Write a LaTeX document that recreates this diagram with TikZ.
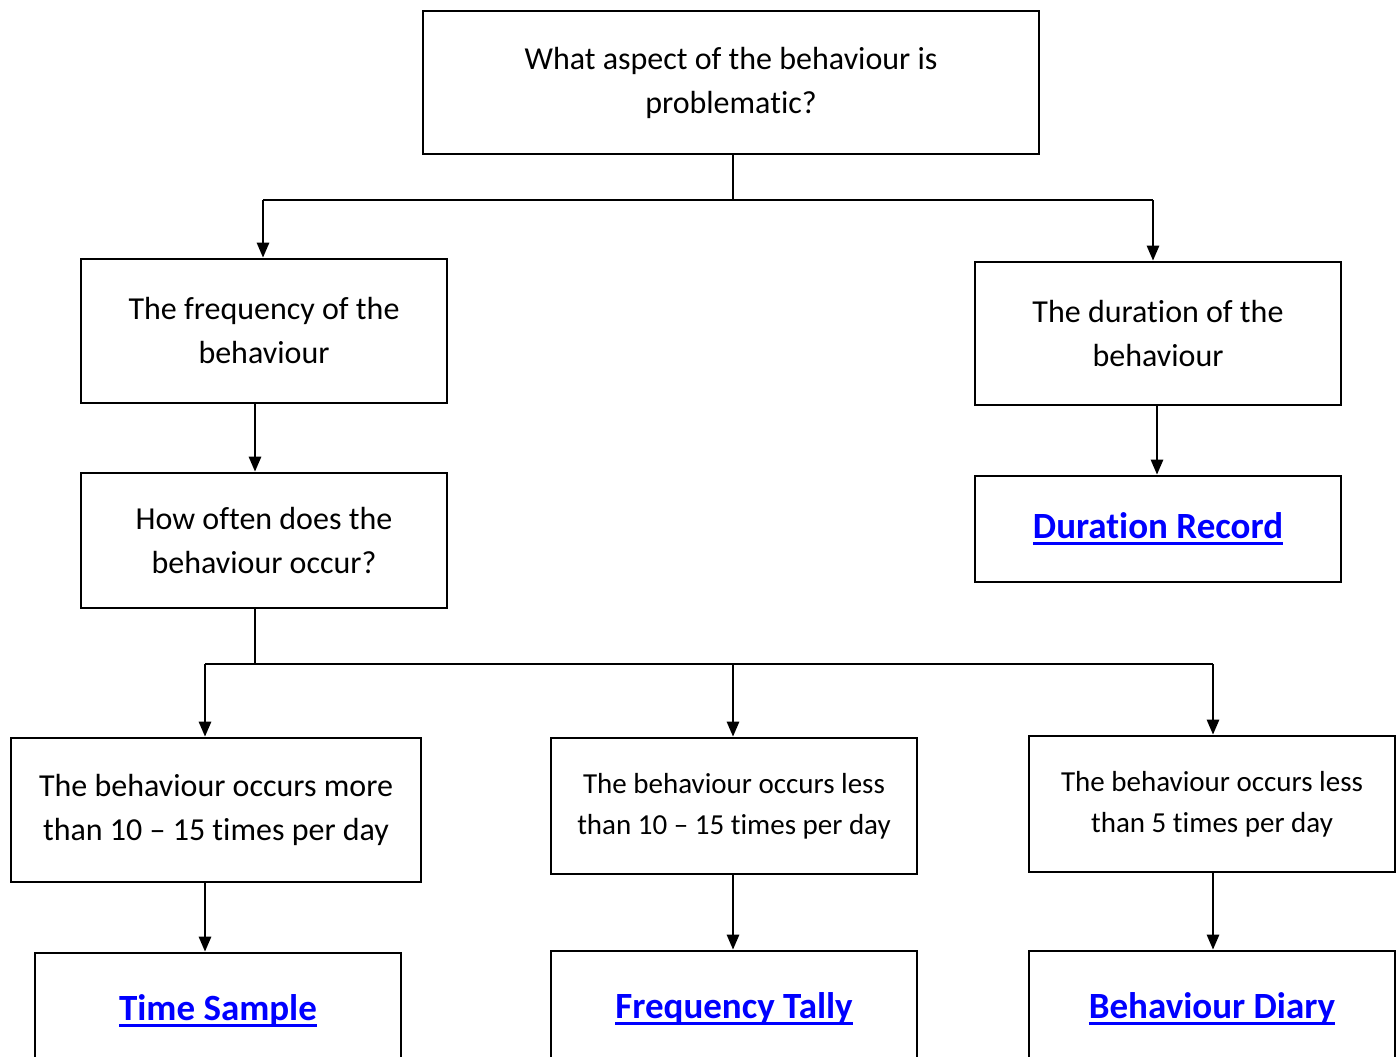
\documentclass[tikz,border=0pt]{standalone}
\usepackage{fontspec}
\setmainfont[Ligatures={NoCommon}]{Carlito}
\usetikzlibrary{arrows.meta}
\newcommand\lnk[1]{\textcolor{blue}{\setbox0\hbox{\bfseries #1}\rlap{\copy0}\rule[-7pt]{\wd0}{3pt}}}
\tikzset{
  box/.style={draw=black, line width=2.6pt, fill=white, rectangle, align=center, inner sep=0pt, font=\fontsize{32}{44}\selectfont},
  smallbox/.style={box, font=\fontsize{29}{41}\selectfont},
  linkbox/.style={box, font=\fontsize{37}{44}\selectfont},
  arr/.style={line width=2.6pt, -{Triangle[length=15pt,width=12pt]}},
  ln/.style={line width=2.6pt}
}
\begin{document}
\begin{tikzpicture}[x=1pt,y=-1pt]
\useasboundingbox (0,0) rectangle (1400,1057);
\clip (0,0) rectangle (1400,1057);
\node[box, minimum width=616pt, minimum height=143pt] (q) at (731,82.5) {What aspect of the behaviour is\\problematic?};
\node[box, minimum width=366pt, minimum height=144pt] (freq) at (264,331) {The frequency of the\\behaviour};
\node[box, minimum width=366pt, minimum height=143pt] (dur) at (1158,333.5) {The duration of the\\behaviour};
\node[box, minimum width=366pt, minimum height=135pt] (how) at (264,540.5) {How often does the\\behaviour occur?};
\node[linkbox, minimum width=366pt, minimum height=106pt] (drec) at (1158,529) {\lnk{Duration Record}};
\node[box, minimum width=410pt, minimum height=144pt] (more) at (216,810) {The behaviour occurs more\\than 10 -- 15 times per day};
\node[smallbox, minimum width=366pt, minimum height=136pt] (less) at (734,806) {The behaviour occurs less\\than 10 -- 15 times per day};
\node[smallbox, minimum width=366pt, minimum height=136pt] (five) at (1212,804) {The behaviour occurs less\\than 5 times per day};
\node[linkbox, minimum width=366pt, minimum height=120pt] (ts) at (218,1013) {\raisebox{11pt}{\lnk{Time Sample}}};
\node[linkbox, minimum width=366pt, minimum height=120pt] (ft) at (734,1011) {\raisebox{11pt}{\lnk{Frequency Tally}}};
\node[linkbox, minimum width=366pt, minimum height=120pt] (bd) at (1212,1011) {\raisebox{11pt}{\lnk{Behaviour Diary}}};
% top split
\coordinate (j1) at (733,200);
\draw[ln] ([xshift=2pt]q.south) -- ([xshift=2pt]q.south |- j1);
\draw[ln] ([xshift=-1pt]freq.north |- j1) -- ([xshift=-5pt]dur.north |- j1);
\draw[arr] ([xshift=-1pt]freq.north |- j1) -- ([xshift=-1pt]freq.north);
\draw[arr] ([xshift=-5pt]dur.north |- j1) -- ([xshift=-5pt]dur.north);
% frequency chain
\draw[arr] ([xshift=-9pt]freq.south) -- ([xshift=-9pt]how.north);
\draw[arr] ([xshift=-1pt]dur.south) -- ([xshift=-1pt]drec.north);
% second split
\coordinate (j2) at (255,664);
\draw[ln] ([xshift=-9pt]how.south) -- (j2);
\draw[ln] ([xshift=-11pt]more.north |- j2) -- ([xshift=1pt]five.north |- j2);
\draw[arr] ([xshift=-11pt]more.north |- j2) -- ([xshift=-11pt]more.north);
\draw[arr] ([xshift=-1pt]less.north |- j2) -- ([xshift=-1pt]less.north);
\draw[arr] ([xshift=1pt]five.north |- j2) -- ([xshift=1pt]five.north);
% to results
\draw[arr] ([xshift=-11pt]more.south) -- ([xshift=-11pt]more.south |- ts.north);
\draw[arr] ([xshift=-1pt]less.south) -- ([xshift=-1pt]less.south |- ft.north);
\draw[arr] ([xshift=1pt]five.south) -- ([xshift=1pt]five.south |- bd.north);
\end{tikzpicture}
\end{document}
